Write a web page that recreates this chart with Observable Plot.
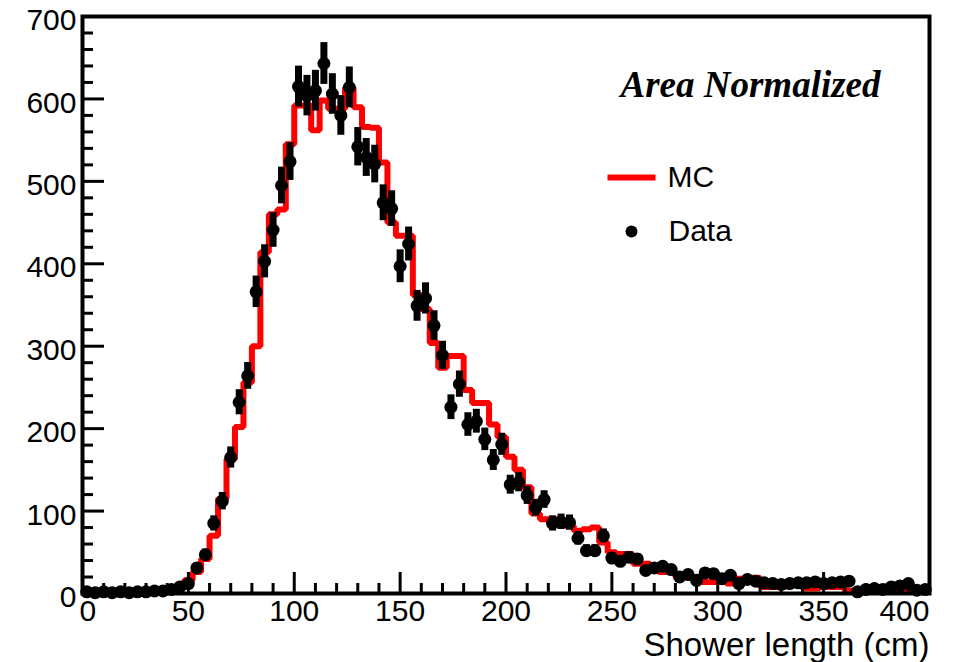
<!DOCTYPE html>
<html>
<head>
<meta charset="utf-8">
<script src="https://cdn.jsdelivr.net/npm/d3@7"></script>
<script src="https://cdn.jsdelivr.net/npm/@observablehq/plot@0.6"></script>
<style>
  html, body { margin: 0; padding: 0; background: #fff; }
  #chart { width: 970px; height: 662px; }
  svg { display: block; }
</style>
</head>
<body>
<div id="chart"></div>
<script>
// ---------------- data ----------------
const binWidth = 4;      // cm, both histograms
const xRange = [0, 400];
const yRange = [0, 700];

// Data histogram, bin centers 2, 6, ..., 398
const dataValues = [
  2, 1, 2, 1, 2, 1, 2, 2, 3, 3,
  5, 8, 12, 31, 47, 85, 112, 165, 232, 264,
  366, 403, 441, 495, 524, 615, 604, 610, 643, 606,
  580, 614, 542, 529, 521, 474, 467, 397, 424, 349,
  358, 325, 289, 226, 254, 205, 209, 187, 162, 181,
  132, 135, 119, 104, 114, 85, 87, 86, 67, 52,
  52, 70, 43, 39, 44, 42, 28, 31, 33, 29,
  20, 23, 16, 25, 24, 18, 22, 12, 17, 15,
  13, 12, 11, 12, 13, 13, 14, 12, 13, 14,
  15, 2, 5, 6, 5, 8, 9, 12, 4, 5
];

// MC histogram, bin lower edges 0, 4, ..., 396
const mcValues = [
  0, 0, 0, 0, 1, 1, 1, 2, 3, 4,
  6, 9, 16, 26, 42, 70, 115, 163, 202, 256,
  300, 414, 460, 466, 545, 592, 592, 562, 598, 588,
  588, 614, 590, 566, 565, 523, 450, 434, 434, 362,
  345, 304, 274, 288, 288, 247, 231, 231, 205, 190,
  166, 150, 129, 97, 90, 90, 85, 82, 76, 78,
  80, 62, 50, 48, 48, 36, 36, 34, 26, 26,
  20, 20, 20, 14, 14, 14, 12, 18, 19, 19,
  8, 8, 8, 11, 11, 6, 6, 8, 8, 8,
  3, 2, 2, 2, 2, 2, 2, 2, 2, 2
];

const xMajorTicks = [0, 50, 100, 150, 200, 250, 300, 350, 400];
const xMinorTicks = d3.range(0, 401, 10).filter(v => v % 50 !== 0);
const yMajorTicks = [0, 100, 200, 300, 400, 500, 600, 700];
const yMinorTicks = d3.range(0, 701, 20).filter(v => v % 100 !== 0);
const xTickLabels = ["0", "50", "100", "150", "200", "250", "300", "350", "400"];
const yTickLabels = ["0", "100", "200", "300", "400", "500", "600", "700"];
const xTitle = "Shower length (cm)";
const annotation = "Area Normalized";
const legendLabels = ["MC", "Data"];

// ---------------- tables for the library ----------------
const dataRows = dataValues.map((v, i) => ({
  x: i * binWidth + binWidth / 2,
  y: v,
  err: Math.sqrt(v) // Poisson uncertainty
}));
const mcSteps = mcValues.map((v, i) => ({ x: i * binWidth, y: v }));
mcSteps.push({ x: mcValues.length * binWidth, y: mcValues[mcValues.length - 1] });

const sans = "Liberation Sans, Arial, Helvetica, sans-serif";
const serif = "Liberation Serif, Times New Roman, serif";

const W = 970, H = 662;
const mL = 82, mR = 41, mT = 16, mB = 69;
const plotW = W - mL - mR, plotH = H - mT - mB;

const lineSymbol = {
  draw(ctx) {
    ctx.moveTo(-24, -3); ctx.lineTo(24, -3); ctx.lineTo(24, 3); ctx.lineTo(-24, 3); ctx.closePath();
  }
};

const n = xMajorTicks.length;
const chart = Plot.plot({
  width: W,
  height: H,
  marginLeft: mL,
  marginRight: mR,
  marginTop: mT,
  marginBottom: mB,
  style: { fontFamily: sans, background: "#fff", overflow: "visible" },
  x: { domain: xRange, axis: null },
  y: { domain: yRange, axis: null },
  marks: [
    // MC histogram outline
    Plot.line(mcSteps, {
      x: "x", y: "y", curve: "step-after",
      stroke: "#ff0000", strokeWidth: 6, strokeLinejoin: "miter", strokeLinecap: "butt"
    }),
    // data error bars
    Plot.ruleX(dataRows, {
      x: "x", y1: d => d.y - d.err, y2: d => d.y + d.err,
      stroke: "black", strokeWidth: 7
    }),
    // data points
    Plot.dot(dataRows, { x: "x", y: "y", r: 6.5, fill: "black", stroke: null }),
    // frame
    Plot.frame({ stroke: "black", strokeWidth: 4 }),
    // inward ticks
    Plot.tickX(xMajorTicks, { x: d => d, insetTop: plotH - 21, stroke: "black", strokeWidth: 3 }),
    Plot.tickX(xMinorTicks, { x: d => d, insetTop: plotH - 10, stroke: "black", strokeWidth: 3 }),
    Plot.tickY(yMajorTicks, { y: d => d, insetRight: plotW - 22, stroke: "black", strokeWidth: 3 }),
    Plot.tickY(yMinorTicks, { y: d => d, insetRight: plotW - 11, stroke: "black", strokeWidth: 3 }),
    // x tick labels (edge labels kept inside, as ROOT does)
    Plot.text(xMajorTicks.slice(0, 1), {
      x: d => d, text: (d, i) => xTickLabels[0], frameAnchor: "bottom", lineAnchor: "top",
      textAnchor: "start", dx: -3, dy: 6, fontSize: 30, fill: "black"
    }),
    Plot.text(xMajorTicks.slice(1, n - 1), {
      x: d => d, text: (d, i) => xTickLabels[i + 1], frameAnchor: "bottom", lineAnchor: "top",
      textAnchor: "middle", dy: 6, fontSize: 30, fill: "black"
    }),
    Plot.text(xMajorTicks.slice(n - 1), {
      x: d => d, text: (d, i) => xTickLabels[n - 1], frameAnchor: "bottom", lineAnchor: "top",
      textAnchor: "end", dx: 0, dy: 6, fontSize: 30, fill: "black"
    }),
    // y tick labels
    Plot.text(yMajorTicks, {
      y: d => d, text: (d, i) => yTickLabels[i], frameAnchor: "left",
      textAnchor: "end", lineAnchor: "middle", dx: -6, dy: 4, fontSize: 30, fill: "black"
    }),
    // axis title
    Plot.text([xTitle], {
      text: d => d, frameAnchor: "bottom-right", textAnchor: "end", lineAnchor: "middle",
      dy: 52, fontSize: 33, fill: "black"
    }),
    // annotation
    Plot.text([annotation], {
      text: d => d, frameAnchor: "top-left", textAnchor: "start", lineAnchor: "middle",
      dx: 538, dy: 69, fontSize: 37, fontWeight: "bold", fontStyle: "italic",
      fontFamily: serif, fill: "black"
    }),
    // legend
    Plot.dot([legendLabels[0]], {
      frameAnchor: "top-left", dx: 549, dy: 161, symbol: lineSymbol, r: 6,
      fill: "#ff0000", stroke: null
    }),
    Plot.text([legendLabels[0]], {
      text: d => d, frameAnchor: "top-left", textAnchor: "start", lineAnchor: "middle",
      dx: 585, dy: 161, fontSize: 30, fill: "black"
    }),
    Plot.dot([legendLabels[1]], {
      frameAnchor: "top-left", dx: 549, dy: 215, r: 6, fill: "black", stroke: null
    }),
    Plot.text([legendLabels[1]], {
      text: d => d, frameAnchor: "top-left", textAnchor: "start", lineAnchor: "middle",
      dx: 586, dy: 215, fontSize: 30, fill: "black"
    })
  ]
});
document.getElementById("chart").appendChild(chart);
</script>
</body>
</html>
